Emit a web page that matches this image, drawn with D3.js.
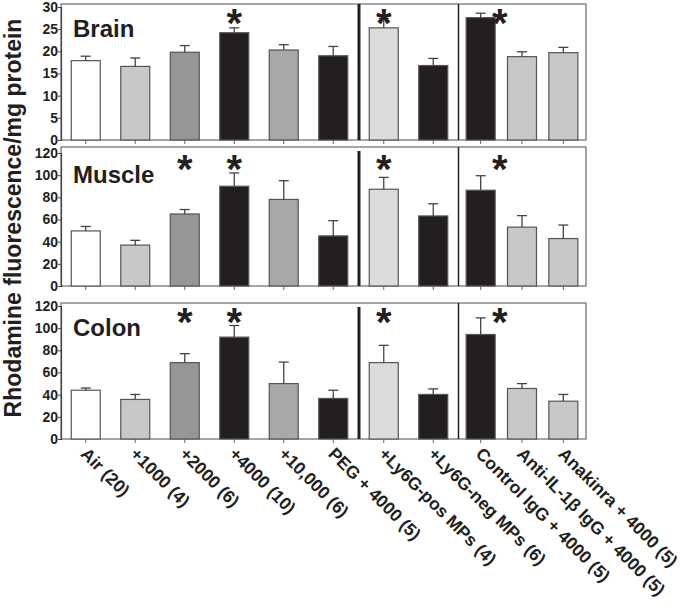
<!DOCTYPE html>
<html>
<head>
<meta charset="utf-8">
<script src="https://cdn.jsdelivr.net/npm/d3@7"></script>
<style>
    body { margin: 0; background: #fff; }
    text { font-family: "Liberation Sans", Arial, sans-serif; font-weight: bold; fill: #231f20; }
</style>
</head>
<body>
<div id="chart-container"></div>
<script>
/*
    Rhodamine fluorescence in brain, muscle and colon
 */

var categories = ["Air (20)", "+1000 (4)", "+2000 (6)", "+4000 (10)", "+10,000 (6)", "PEG + 4000 (5)",
    "+Ly6G-pos MPs (4)", "+Ly6G-neg MPs (6)",
    "Control IgG + 4000 (5)", "Anti-IL-1β IgG + 4000 (5)", "Anakinra + 4000 (5)"];
var category_groups = [0, 0, 0, 0, 0, 0, 1, 1, 2, 2, 2];

var panel_names = ["Brain", "Muscle", "Colon"];

var brain_values = [17.9, 16.6, 19.8, 24.2, 20.3, 19.0, 25.3, 16.8, 27.6, 18.8, 19.7];
var brain_errors = [1.0, 1.9, 1.5, 1.1, 1.2, 2.1, 2.1, 1.6, 1.0, 1.1, 1.2];
var brain_stars = [0, 0, 0, 1, 0, 0, 1, 0, 1, 0, 0];
var brain_ticks = [0, 5, 10, 15, 20, 25, 30];

var muscle_values = [49.7, 36.9, 65.0, 90.0, 78.1, 45.2, 87.3, 63.2, 86.4, 53.1, 42.8];
var muscle_errors = [4.0, 4.3, 4.0, 12.0, 16.9, 13.7, 10.7, 11.0, 13.1, 10.4, 12.2];
var muscle_stars = [0, 0, 1, 1, 0, 0, 1, 0, 1, 0, 0];
var muscle_ticks = [0, 20, 40, 60, 80, 100, 120];

var colon_values = [44.0, 35.7, 68.9, 91.9, 50.0, 36.6, 68.9, 40.2, 94.3, 45.6, 34.1];
var colon_errors = [2.0, 4.5, 8.1, 10.5, 19.4, 7.4, 15.6, 5.0, 15.0, 4.4, 6.1];
var colon_stars = [0, 0, 1, 1, 0, 0, 1, 0, 1, 0, 0];
var colon_ticks = [0, 20, 40, 60, 80, 100, 120];

var y_label = "Rhodamine fluorescence/mg protein";

// styles
var bar_colors = ["#ffffff", "#c8c8c8", "#969696", "#231f20", "#a8a8a8", "#231f20",
    "#dcdcdc", "#231f20", "#231f20", "#c8c8c8", "#c8c8c8"];
var bar_width = 29;
var group_ranges = [[61, 358], [359, 458], [460, 584]];
var panel_bottoms = [140, 286, 439];
var panel_height = 133;
var plot_left = 61, plot_right = 586;

var panels = [
    {name: panel_names[0], values: brain_values, errors: brain_errors, stars: brain_stars, ticks: brain_ticks},
    {name: panel_names[1], values: muscle_values, errors: muscle_errors, stars: muscle_stars, ticks: muscle_ticks},
    {name: panel_names[2], values: colon_values, errors: colon_errors, stars: colon_stars, ticks: colon_ticks}
];

var svg = d3.select("#chart-container")
    .append("svg")
    .attr('width', 686)
    .attr('height', 615);

// one point scale per group of bars
var group_scales = group_ranges.map(function(r, g){
    return d3.scalePoint()
        .domain(categories.filter(function(c, i){ return category_groups[i] === g; }))
        .range(r)
        .padding(0.5);
});

function x_center(i){
    return group_scales[category_groups[i]](categories[i]);
}

panels.forEach(function(p, k){
    var bottom = panel_bottoms[k];
    var y_max = d3.max(p.ticks);
    var y_scale = d3.scaleLinear()
        .domain([0, y_max])
        .range([bottom, bottom - panel_height]);
    var top = y_scale(y_max) - (k === 1 ? 6 : 3);

    var g = svg.append('g');

    // frame
    g.append('rect')
        .attr('x', plot_left)
        .attr('y', top)
        .attr('width', plot_right - plot_left)
        .attr('height', bottom - top)
        .style('fill', 'none')
        .style('stroke', '#6a6a6a')
        .style('stroke-width', '1.2px');

    // group dividers
    g.append('line')
        .attr('x1', group_ranges[1][0]).attr('x2', group_ranges[1][0])
        .attr('y1', k === 0 ? top : top + 4).attr('y2', bottom)
        .style('stroke', '#231f20')
        .style('stroke-width', '3px');

    g.append('line')
        .attr('x1', group_ranges[2][0] - 1.5).attr('x2', group_ranges[2][0] - 1.5)
        .attr('y1', top).attr('y2', bottom)
        .style('stroke', '#231f20')
        .style('stroke-width', '1.5px');

    // y axis
    var y_axis = d3.axisLeft(y_scale)
        .tickValues(p.ticks)
        .tickSize(3)
        .tickPadding(0)
        .tickFormat(d3.format("d"));

    var axis_group = g.append('g')
        .attr('transform', 'translate(' + plot_left + ',0)')
        .call(y_axis);
    axis_group.select('.domain').style('stroke', '#444').style('stroke-width', '1.2px');
    axis_group.selectAll('.tick line').style('stroke', '#444');
    axis_group.selectAll('.tick text')
        .style('font-size', '14px')
        .style('font-family', '"Liberation Sans", Arial, sans-serif')
        .style('font-weight', 'bold')
        .style('fill', '#231f20');

    // x ticks
    g.selectAll('.x-tick')
        .data(categories)
        .enter()
        .append('line')
        .attr('x1', function(d, i){ return x_center(i); })
        .attr('x2', function(d, i){ return x_center(i); })
        .attr('y1', bottom)
        .attr('y2', bottom + 4)
        .style('stroke', '#666')
        .classed('x-tick', true);

    // bars
    g.selectAll('.bar')
        .data(p.values)
        .enter()
        .append('rect')
        .attr('x', function(d, i){ return x_center(i) - bar_width / 2; })
        .attr('y', function(d){ return y_scale(d); })
        .attr('width', bar_width)
        .attr('height', function(d){ return bottom - y_scale(d); })
        .style('fill', function(d, i){ return bar_colors[i]; })
        .style('stroke', '#555')
        .style('stroke-width', '1.2px')
        .classed('bar', true);

    // error bars (upper only)
    var err = g.selectAll('.err')
        .data(p.values)
        .enter()
        .append('g')
        .classed('err', true);

    err.append('line')
        .attr('x1', function(d, i){ return x_center(i); })
        .attr('x2', function(d, i){ return x_center(i); })
        .attr('y1', function(d){ return y_scale(d); })
        .attr('y2', function(d, i){ return y_scale(d + p.errors[i]); })
        .style('stroke', '#444')
        .style('stroke-width', '1.3px');

    err.append('line')
        .attr('x1', function(d, i){ return x_center(i) - 5; })
        .attr('x2', function(d, i){ return x_center(i) + 5; })
        .attr('y1', function(d, i){ return y_scale(d + p.errors[i]); })
        .attr('y2', function(d, i){ return y_scale(d + p.errors[i]); })
        .style('stroke', '#444')
        .style('stroke-width', '1.3px');

    // significance stars
    p.stars.forEach(function(s, i){
        if(!s) return;
        // the tall control bar gets its star beside it
        var shift = (i === 8) ? 19 : 0;
        g.append('text')
            .attr('x', x_center(i) + shift)
            .attr('y', y_scale(y_max) + 30)
            .attr('text-anchor', 'middle')
            .style('font-size', '40px')
            .text('*')
            .classed('star', true);
    });

    // panel name
    g.append('text')
        .attr('x', 73)
        .attr('y', y_scale(y_max) + 30)
        .style('font-size', '24px')
        .text(p.name);
});

// category labels
svg.selectAll('.cat-label')
    .data(categories)
    .enter()
    .append('text')
    .attr('transform', function(d, i){
        return 'translate(' + (x_center(i) - 6) + ',' + (panel_bottoms[2] + 16) + ') rotate(45)';
    })
    .attr('text-anchor', 'start')
    .style('font-size', '17.5px')
    .text(function(d){ return d; })
    .classed('cat-label', true);

// y axis title
svg.append('text')
    .attr('transform', 'translate(21,218) rotate(-90)')
    .attr('text-anchor', 'middle')
    .style('font-size', '23px')
    .text(y_label);
</script>
</body>
</html>
